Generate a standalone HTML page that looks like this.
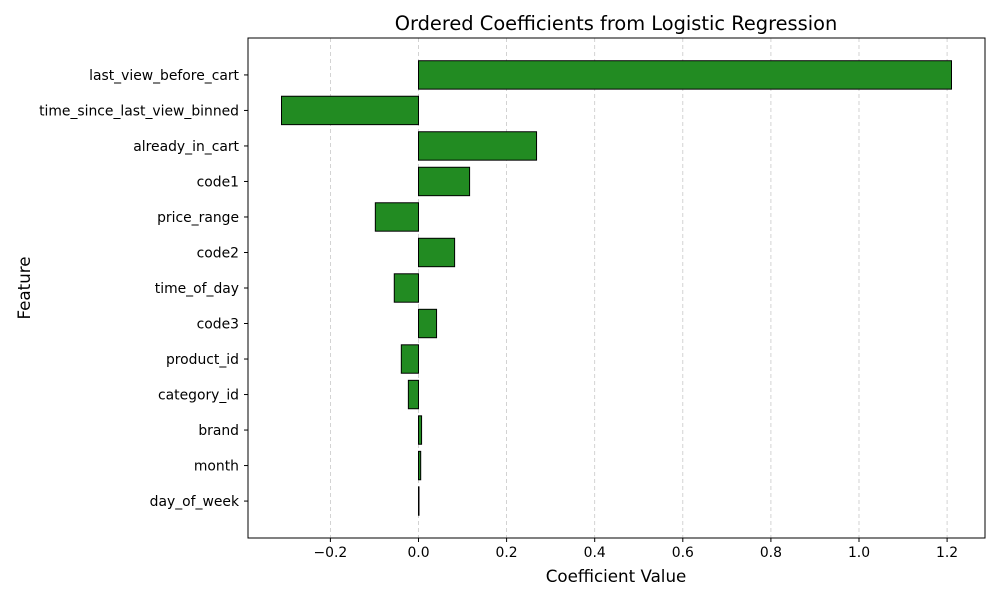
<!DOCTYPE html>
<html><head><meta charset="utf-8"><style>
body{margin:0;background:#fff;font-family:"DejaVu Sans","Liberation Sans",sans-serif;}
</style></head><body>
<svg id="chart" width="1000" height="600" xmlns="http://www.w3.org/2000/svg" font-family="DejaVu Sans, Liberation Sans, sans-serif">
<rect width="1000" height="600" fill="#fff"/>
<text x="616" y="30" text-anchor="middle" font-size="19.4" fill="#000">Ordered Coefficients from Logistic Regression</text>
<text x="616" y="582" text-anchor="middle" font-size="16.7" fill="#000">Coefficient Value</text>
<text transform="translate(30,288) rotate(-90)" text-anchor="middle" font-size="16.7" fill="#000">Feature</text>
<g id="grid"></g><g id="bars"></g><g id="axes"></g>
</svg>
<script>
const features=["last_view_before_cart","time_since_last_view_binned","already_in_cart","code1","price_range","code2","time_of_day","code3","product_id","category_id","brand","month","day_of_week"];
const coefs=[1.21,-0.311,0.268,0.116,-0.098,0.082,-0.055,0.041,-0.039,-0.023,0.007,0.005,0.001];
const xTicks=[-0.2,0.0,0.2,0.4,0.6,0.8,1.0,1.2];
const xTickLabels=["−0.2","0.0","0.2","0.4","0.6","0.8","1.0","1.2"];
const L=248,R=985,T=38,B=538,NS="http://www.w3.org/2000/svg";
const dmin=Math.min(0,...coefs),dmax=Math.max(0,...coefs),m=(dmax-dmin)*0.05;
const x0=dmin-m,x1=dmax+m;
const n=features.length,y0=-0.4-(n-0.2)*0.05,y1=n-1+0.4+(n-0.2)*0.05;
const sx=v=>L+(v-x0)/(x1-x0)*(R-L);
const sy=i=>T+(y1-i)/(y1-y0)*(B-T);
const unitY=(B-T)/(y1-y0);
function mk(tag,attrs,parent){const e=document.createElementNS(NS,tag);for(const k in attrs)e.setAttribute(k,attrs[k]);document.getElementById(parent).appendChild(e);return e;}
xTicks.forEach((t,i)=>{
 const g=mk("line",{x1:sx(t),x2:sx(t),y1:T,y2:B,stroke:"#c8c8c8","stroke-dasharray":"4,3","stroke-width":0.8},"grid");
 
 
 const tk=mk("line",{x1:sx(t),x2:sx(t),y1:B,y2:B+4,stroke:"#000"},"axes");
 
 
 const tx=mk("text",{x:sx(t),y:B+19,"text-anchor":"middle","font-size":13.9},"axes");
 tx.textContent=xTickLabels[i];
 
 
});
features.forEach((f,i)=>{
 const idx=n-1-i;
 const v=coefs[i],cy=sy(idx),h=0.8*unitY;
 const a=sx(Math.min(0,v)),b=sx(Math.max(0,v));
 const r=mk("rect",{x:a,y:cy-h/2,width:Math.max(b-a,0.5),height:h,fill:"#228b22",stroke:"#000","stroke-width":1},"bars");
 
 
 const tk=mk("line",{x1:L-4,x2:L,y1:cy,y2:cy,stroke:"#000"},"axes");
 
 
 const tx=mk("text",{x:L-9,y:cy+5,"text-anchor":"end","font-size":13.9},"axes");
 tx.textContent=f;
 
 
});
const fr=mk("rect",{x:L,y:T,width:R-L,height:B-T,fill:"none",stroke:"#000","stroke-width":1},"axes");


</script>
</body></html>
